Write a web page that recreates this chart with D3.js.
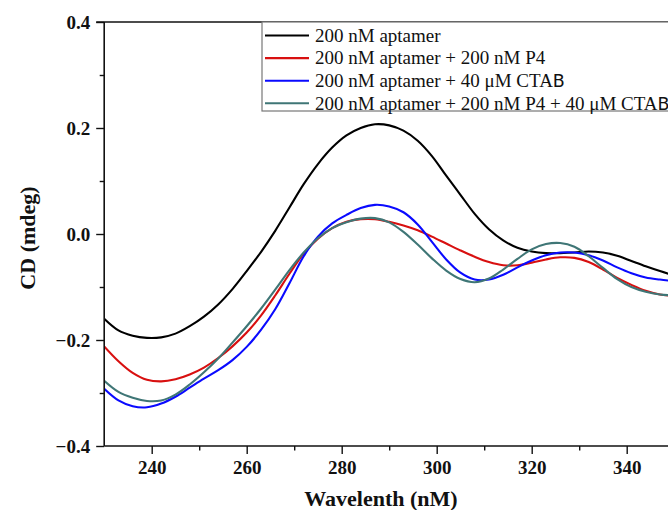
<!DOCTYPE html>
<html><head><meta charset="utf-8">
<script src="https://cdn.jsdelivr.net/npm/d3@7"></script>
<style>body{margin:0;background:#fff}svg{display:block}</style>
</head><body>
<svg id="c" width="668" height="510"></svg>
<script>
const wavelengths = [230,233,236,239,242,245,248,251,254,257,260,263,266,269,272,275,278,281,284,287,290,293,296,299,302,305,308,311,314,317,320,323,326,329,332,335,338,341,344,347,350];
const aptamer = [-0.160,-0.182,-0.192,-0.196,-0.195,-0.188,-0.174,-0.156,-0.133,-0.104,-0.070,-0.034,0.006,0.050,0.094,0.132,0.163,0.186,0.200,0.207,0.205,0.195,0.176,0.147,0.110,0.074,0.038,0.009,-0.012,-0.026,-0.033,-0.036,-0.036,-0.035,-0.033,-0.035,-0.041,-0.051,-0.061,-0.070,-0.078];
const aptamerP4 = [-0.212,-0.240,-0.262,-0.275,-0.278,-0.274,-0.265,-0.252,-0.234,-0.212,-0.186,-0.154,-0.116,-0.075,-0.037,-0.009,0.011,0.023,0.028,0.028,0.023,0.016,0.007,-0.005,-0.018,-0.031,-0.043,-0.053,-0.059,-0.059,-0.054,-0.048,-0.044,-0.045,-0.053,-0.067,-0.083,-0.096,-0.107,-0.114,-0.117];
const aptamerCTAB = [-0.292,-0.314,-0.325,-0.327,-0.320,-0.307,-0.290,-0.273,-0.257,-0.238,-0.213,-0.181,-0.142,-0.093,-0.042,-0.005,0.020,0.036,0.049,0.055,0.052,0.041,0.018,-0.015,-0.048,-0.073,-0.086,-0.086,-0.077,-0.063,-0.050,-0.040,-0.035,-0.035,-0.040,-0.050,-0.063,-0.074,-0.082,-0.086,-0.089];
const aptamerP4CTAB = [-0.277,-0.298,-0.309,-0.315,-0.314,-0.303,-0.284,-0.261,-0.235,-0.205,-0.174,-0.141,-0.105,-0.068,-0.035,-0.008,0.011,0.022,0.029,0.030,0.022,0.004,-0.020,-0.046,-0.069,-0.085,-0.091,-0.084,-0.067,-0.047,-0.029,-0.019,-0.017,-0.024,-0.042,-0.064,-0.085,-0.100,-0.109,-0.114,-0.116];
const seriesNames = ["200 nM aptamer","200 nM aptamer + 200 nM P4","200 nM aptamer + 40 \u03bcM CTAB","200 nM aptamer + 200 nM P4 + 40 \u03bcM CTAB"];
const seriesColors = ["#000000","#d81010","#0a0aff","#3f7676"];
const xMajorTicks = [240,260,280,300,320,340];
const xMinorTicks = [250,270,290,310,330];
const yMajorTicks = [-0.4,-0.2,0.0,0.2,0.4];
const yMinorTicks = [-0.3,-0.1,0.1,0.3];

const seriesValues = [aptamer, aptamerP4, aptamerCTAB, aptamerP4CTAB];
const svg = d3.select("#c");
const L = 104.2, T = 22, B = 446;
const x = d3.scaleLinear().domain([230,350]).range([L, L + 570]);
const y = d3.scaleLinear().domain([-0.4,0.4]).range([B, T]);
const serif = "'Liberation Serif','Times New Roman',serif";

svg.append("defs").append("clipPath").attr("id","clip")
  .append("rect").attr("x",L).attr("y",T).attr("width",700).attr("height",B-T);

// lines
const line = d3.line().x((d,i)=>x(wavelengths[i])).y(d=>y(d)).curve(d3.curveCatmullRom.alpha(0.5));
const g = svg.append("g").attr("clip-path","url(#clip)");
seriesValues.forEach((vals,k)=>{
  g.append("path").datum(vals).attr("d",line).attr("fill","none")
   .attr("stroke",seriesColors[k]).attr("stroke-width",2.1).attr("stroke-linejoin","round");
});

// axes
const axStyle = sel => { sel.select(".domain").remove(); sel.selectAll("line").attr("stroke","#111").attr("stroke-width",1.4); };
const xAx = svg.append("g").attr("transform",`translate(0,${B})`)
  .call(d3.axisBottom(x).tickValues(xMajorTicks).tickSize(8).tickFormat(d3.format("d")));
xAx.call(axStyle);
xAx.selectAll("text").attr("font-family",serif).attr("font-weight","bold").attr("font-size","19px").attr("fill","#111").attr("dy","0.91em");
const xMin = svg.append("g").attr("transform",`translate(0,${B})`)
  .call(d3.axisBottom(x).tickValues(xMinorTicks).tickSize(4.5).tickFormat(""));
xMin.call(axStyle);

const yAx = svg.append("g").attr("transform",`translate(${L},0)`)
  .call(d3.axisLeft(y).tickValues(yMajorTicks).tickSize(8).tickFormat(d3.format(".1f")));
yAx.call(axStyle);
yAx.selectAll("text").attr("font-family",serif).attr("font-weight","bold").attr("font-size","19px").attr("fill","#111").attr("x",-14).attr("dy","0.34em");
const yMin = svg.append("g").attr("transform",`translate(${L},0)`)
  .call(d3.axisLeft(y).tickValues(yMinorTicks).tickSize(4.5).tickFormat(""));
yMin.call(axStyle);

// frame lines
svg.append("line").attr("x1",L).attr("x2",L).attr("y1",T).attr("y2",B).attr("stroke","#111").attr("stroke-width",1.6);
svg.append("line").attr("x1",L).attr("x2",668).attr("y1",B).attr("y2",B).attr("stroke","#111").attr("stroke-width",1.6);
svg.append("line").attr("x1",L-8).attr("x2",668).attr("y1",T).attr("y2",T).attr("stroke","#111").attr("stroke-width",1.6);

// titles
svg.append("text").attr("x",381).attr("y",506).attr("text-anchor","middle")
  .attr("font-family",serif).attr("font-weight","bold").attr("font-size","22px").attr("fill","#111").text("Wavelenth (nM)");
svg.append("text").attr("transform","translate(35,238) rotate(-90)").attr("text-anchor","middle")
  .attr("font-family",serif).attr("font-weight","bold").attr("font-size","22px").attr("fill","#111").text("CD (mdeg)");

// legend
const lg = svg.append("g");
lg.append("rect").attr("x",262).attr("y",T).attr("width",420).attr("height",89)
  .attr("fill","#fff").attr("stroke","#777").attr("stroke-width",1.2);
seriesNames.forEach((name,k)=>{
  const ly = 35.5 + k*22.6;
  lg.append("line").attr("x1",265).attr("x2",309).attr("y1",ly).attr("y2",ly)
    .attr("stroke",seriesColors[k]).attr("stroke-width",2.1);
  const t = lg.append("text").attr("x",315).attr("y",ly).attr("dy","0.33em")
    .attr("font-family",serif).attr("font-size","19px").attr("fill","#111");
  if (name.endsWith("CTAB")) {
    t.append("tspan").text(name.slice(0,-1));
    t.append("tspan").attr("font-family","'DejaVu Sans',sans-serif").attr("font-size","17.5px").text("B");
  } else t.text(name);
});
</script>
</body></html>
